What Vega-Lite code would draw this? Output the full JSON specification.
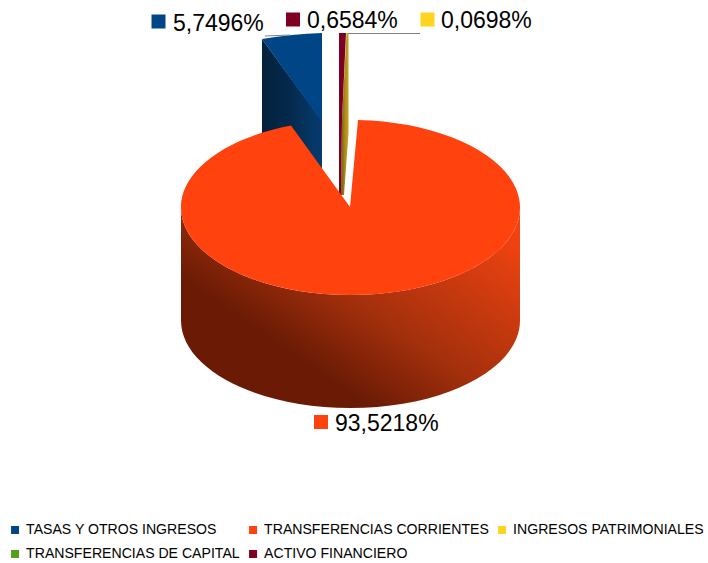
{"$schema":"https://vega.github.io/schema/vega-lite/v6.json","width":708,"height":563,"padding":0,"autosize":{"type":"none"},"background":"#ffffff","config":{"view":{"stroke":null}},
"data":{"values":[
{"category":"TASAS Y OTROS INGRESOS","share":5.7496,"label":"5,7496%"},
{"category":"ACTIVO FINANCIERO","share":0.6584,"label":"0,6584%"},
{"category":"INGRESOS PATRIMONIALES","share":0.0698,"label":"0,0698%"},
{"category":"TRANSFERENCIAS CORRIENTES","share":93.5218,"label":"93,5218%"},
{"category":"TRANSFERENCIAS DE CAPITAL","share":0,"label":""}
]},
"resolve":{"scale":{"x":"independent","y":"independent","shape":"independent"}},
"layer":[
{"transform":[{"filter":"datum.share == 5.7496"}],
 "mark":{"type":"point","filled":true,"opacity":1,"size":4,"strokeWidth":0,"shape":"M-60 -82 L0 0 L0 100 L-60 30 Z","fill":{"gradient":"linear","x1":0,"y1":0.5,"x2":1,"y2":0.5,"stops":[{"offset":0,"color":"#03213c"},{"offset":0.45,"color":"#04294c"},{"offset":1,"color":"#063c70"}]}},
 "encoding":{"x":{"field":"share","type":"quantitative","axis":null,"scale":{"domain":[0,100],"range":[322,322]}},"y":{"field":"share","type":"quantitative","axis":null,"scale":{"domain":[0,100],"range":[121,121]}}}},
{"transform":[{"filter":"datum.share == 0.0698"}],
 "mark":{"type":"point","filled":true,"opacity":1,"size":4,"strokeWidth":0,"shape":"M6.5 -87 L8.5 -87 L8.5 13 L4 75 L1 75 L2 0 Z","fill":{"gradient":"linear","x1":0,"y1":0.5,"x2":1,"y2":0.5,"stops":[{"offset":0,"color":"#6d5a12"},{"offset":0.5,"color":"#a88a1a"},{"offset":1,"color":"#c8a41e"}]}},
 "encoding":{"x":{"field":"share","type":"quantitative","axis":null,"scale":{"domain":[0,100],"range":[340,340]}},"y":{"field":"share","type":"quantitative","axis":null,"scale":{"domain":[0,100],"range":[120,120]}}}},
{"transform":[{"filter":"datum.share == 93.5218"}],
 "mark":{"type":"point","filled":true,"opacity":1,"size":4,"strokeWidth":0,"shape":"M-169.5 0 A169.5 87.5 0 0 0 169.5 0 L169.5 113 A169.5 87.5 0 0 1 -169.5 113 Z","fill":{"gradient":"linear","x1":0.2,"y1":0.9,"x2":1,"y2":0.2,"stops":[{"offset":0.2,"color":"#6b1b05"},{"offset":0.5,"color":"#a5300c"},{"offset":0.9,"color":"#de3f10"},{"offset":1,"color":"#f04210"}]}},
 "encoding":{"x":{"field":"share","type":"quantitative","axis":null,"scale":{"domain":[0,100],"range":[350.5,350.5]}},"y":{"field":"share","type":"quantitative","axis":null,"scale":{"domain":[0,100],"range":[207.5,207.5]}}}},
{"transform":[{"filter":"datum.share == 5.7496 || datum.share == 0.6584 || datum.share == 93.5218"}],
 "mark":{"type":"point","filled":true,"opacity":1,"size":4,"strokeWidth":0},
 "encoding":{
  "x":{"field":"share","type":"quantitative","axis":null,"scale":{"domain":[0.6584,5.7496,93.5218],"range":[340,322,350.5]}},
  "y":{"field":"share","type":"quantitative","axis":null,"scale":{"domain":[0.6584,5.7496,93.5218],"range":[120,121,207.5]}},
  "shape":{"field":"category","type":"nominal","legend":null,"scale":{"domain":["TASAS Y OTROS INGRESOS","ACTIVO FINANCIERO","TRANSFERENCIAS CORRIENTES"],"range":["M-60 -82 Q-30 -87 0 -88 L0 1 Z","M-1 -87 L6 -87 L2 0 L1 75 L-1 75 Z","M-0.5 -0.5 L7.5 -87.41 A169.5 87.5 0 1 1 -59.5 -81.93 Z"]}},
  "color":{"field":"category","type":"nominal","scale":{"domain":["TASAS Y OTROS INGRESOS","TRANSFERENCIAS CORRIENTES","INGRESOS PATRIMONIALES","TRANSFERENCIAS DE CAPITAL","ACTIVO FINANCIERO"],"range":["#004586","#ff420e","#ffd320","#579d1c","#7e0021"]},
   "legend":{"title":null,"orient":"none","legendX":8,"legendY":522,"direction":"horizontal","columns":3,"columnPadding":6,"rowPadding":8,"symbolType":"square","symbolSize":64,"symbolStrokeWidth":0,"labelFont":"Liberation Sans","labelFontSize":14.1,"labelColor":"#000000","labelOffset":4,"labelLimit":400,"clipHeight":16}}
 }},
{"transform":[{"filter":"datum.share == 5.7496 || datum.share == 0.0698"}],
 "mark":{"type":"point","filled":true,"opacity":1,"size":4,"strokeWidth":0,"color":"#808080"},
 "encoding":{
  "x":{"field":"share","type":"quantitative","axis":null,"scale":{"domain":[0.0698,5.7496],"range":[340,322]}},
  "y":{"field":"share","type":"quantitative","axis":null,"scale":{"domain":[0.0698,5.7496],"range":[120,121]}},
  "shape":{"field":"category","type":"nominal","legend":null,"scale":{"domain":["TASAS Y OTROS INGRESOS","INGRESOS PATRIMONIALES"],"range":["M-57 -85.5 L-32 -86.5 L-32 -85.5 L-57 -84.5 Z","M8 -87 L80 -87 L80 -86 L8 -86 Z"]}}
 }},
{"transform":[{"filter":"datum.share > 0"}],
 "mark":{"type":"square","size":196,"opacity":1,"strokeWidth":0},
 "encoding":{
  "x":{"field":"share","type":"quantitative","axis":null,"scale":{"domain":[0.0698,0.6584,5.7496,93.5218],"range":[427.5,293,158.5,321]}},
  "y":{"field":"share","type":"quantitative","axis":null,"scale":{"domain":[0.0698,0.6584,5.7496,93.5218],"range":[19.5,19.5,21.5,422]}},
  "color":{"field":"category","type":"nominal"}
 }},
{"transform":[{"filter":"datum.share > 0"}],
 "mark":{"type":"text","font":"Liberation Sans","fontSize":23,"align":"left","baseline":"middle","color":"#000000"},
 "encoding":{
  "x":{"field":"share","type":"quantitative","axis":null,"scale":{"domain":[0.0698,0.6584,5.7496,93.5218],"range":[441,307,173,335]}},
  "y":{"field":"share","type":"quantitative","axis":null,"scale":{"domain":[0.0698,0.6584,5.7496,93.5218],"range":[21,21,24,424]}},
  "text":{"field":"label"}
 }}
]}
